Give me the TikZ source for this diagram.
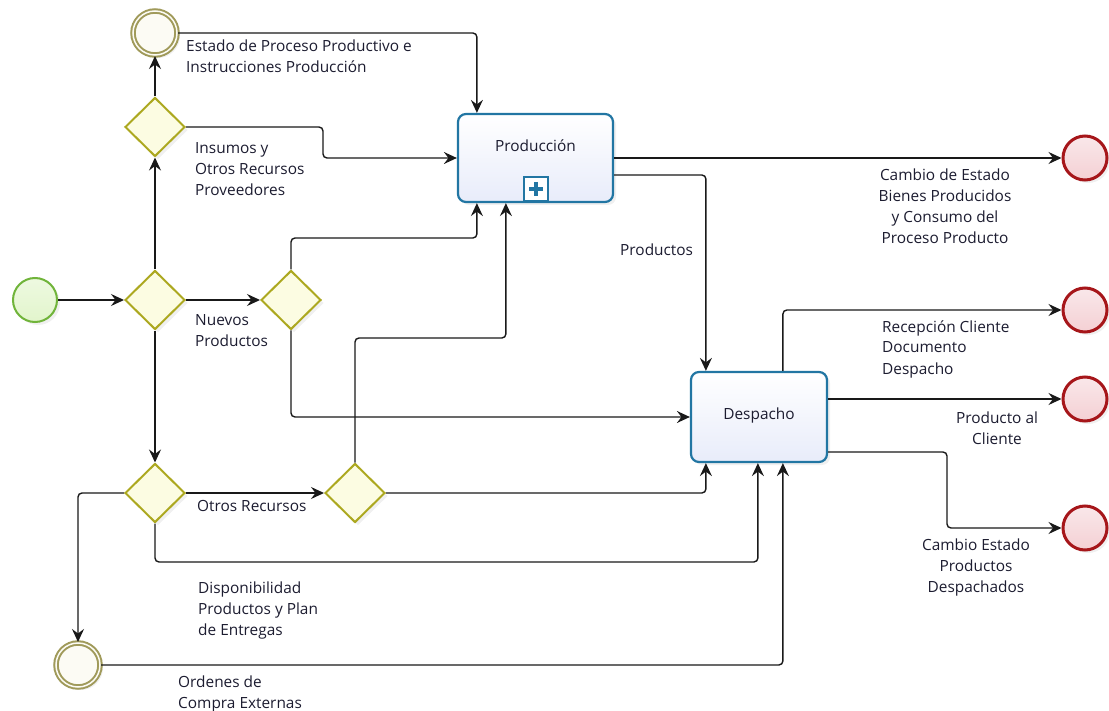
\documentclass[tikz,border=0pt]{standalone}
\usepackage{fontspec}
\setmainfont{Open Sans}
\usetikzlibrary{arrows.meta,shapes.geometric,calc,shadows}

\definecolor{ink}{RGB}{28,28,48}
\definecolor{taskblue}{RGB}{34,118,163}
\definecolor{taskfill}{RGB}{232,236,250}
\definecolor{gwline}{RGB}{172,168,32}
\definecolor{gwfill}{RGB}{252,252,226}
\definecolor{imline}{RGB}{160,154,90}
\definecolor{imfill}{RGB}{252,251,244}
\definecolor{stline}{RGB}{112,180,58}
\definecolor{stfill}{RGB}{226,245,204}
\definecolor{enline}{RGB}{166,22,26}
\definecolor{enfill}{RGB}{244,208,212}

\tikzset{
  softshadow/.style={drop shadow={opacity=0.12, shadow xshift=3pt, shadow yshift=-3pt}},
  task/.style={rectangle, rounded corners=8pt, draw=taskblue, line width=2.2pt,
    top color=white, bottom color=taskfill, softshadow, inner sep=0pt},
  gateway/.style={diamond, aspect=1, minimum width=60pt, minimum height=59pt,
    inner sep=0pt, draw=gwline, line width=2pt, fill=gwfill, softshadow},
  startev/.style={circle, minimum size=44pt, inner sep=0pt, draw=stline,
    line width=2pt, top color=stfill!60!white, bottom color=stfill, softshadow},
  midev/.style={circle, minimum size=44pt, inner sep=0pt, draw=imline,
    line width=2pt, double=imfill, double distance=1.5pt, fill=imfill, softshadow},
  endev/.style={circle, minimum size=44pt, inner sep=0pt, draw=enline,
    line width=3pt, top color=enfill!50!white, bottom color=enfill, softshadow},
  flow/.style={draw=black!90, line width=1.4pt, rounded corners=4pt,
    -{Stealth[length=13pt,width=12pt,inset=4.5pt]}},
  lbl/.style={font=\fontsize{15.4}{21}\selectfont, text=ink, inner sep=0pt},
}

\begin{document}
\begin{tikzpicture}[x=1pt,y=-1pt]
\useasboundingbox (0,0) rectangle (1109,711);

% events and gateways
\node[startev] (start) at (35,300) {};
\node[gateway] (g1)   at (155,300) {};
\node[gateway] (gtop) at (155,127) {};
\node[gateway] (g2)   at (291,300) {};
\node[gateway] (gbot) at (155,493) {};
\node[gateway] (g3)   at (355,493) {};
\node[midev] (ev1) at (155,33) {};
\node[midev] (ev2) at (78,665) {};

% activities
\node[task, minimum width=155pt, minimum height=88pt] (prod) at (535.5,158) {};
\node[lbl] (prodt) at (535.5,146) {Producción};
\node[draw=taskblue, line width=1.6pt, fill=white, minimum size=24pt, inner sep=0pt]
  (sub) at (536,189) {};
\draw[taskblue, line width=4pt] (sub.center) +(-7,0) -- +(7,0);
\draw[taskblue, line width=4pt] (sub.center) +(0,-7) -- +(0,7);

\node[task, minimum width=136pt, minimum height=90pt] (desp) at (759,417) {};
\node[lbl] (despt) at (759,415) {Despacho};

% end events
\node[endev] (end1) at (1085,158) {};
\node[endev] (end2) at (1085,310) {};
\node[endev] (end3) at (1085,399) {};
\node[endev] (end4) at (1085,528) {};

% docking points on the activity borders
\coordinate (pinA) at ($(prod.north west)+(20,0)$);
\coordinate (pinB) at ($(prod.south west)+(20,0)$);
\coordinate (pinC) at ($(prod.south west)+(49,0)$);
\coordinate (pinD) at ($(desp.north west)+(16,0)$);
\coordinate (pinE) at ($(desp.south west)+(16,0)$);
\coordinate (pinF) at ($(desp.south west)+(68,0)$);
\coordinate (pinG) at ($(desp.south west)+(93,0)$);
\coordinate (poutP) at ($(prod.east)+(0,17)$);
\coordinate (poutA) at ($(desp.north west)+(93,0)$);
\coordinate (poutB) at ($(desp.east)+(0,-18)$);
\coordinate (poutC) at ($(desp.east)+(0,35)$);
\coordinate (bendT) at (323,127);
\coordinate (bendR) at (947,452);

% sequence flows
\draw[flow] (start) -- (g1);
\draw[flow] (g1) -- (g2);
\draw[flow] (g1) -- (gtop);
\draw[flow] (gtop) -- (ev1);
\draw[flow] (g1) -- (gbot);
\draw[flow] (gbot) -- (g3);
\draw[flow] (ev1.east) -| (pinA);
\draw[flow] (gtop.east) -- (bendT) |- (prod.west);
\draw[flow] (g2.north) -- (g2.north |- 0,238) -| (pinB);
\draw[flow] (g2.south) |- (desp.west);
\draw[flow] (g3.north) -- (g3.north |- 0,338) -| (pinC);
\draw[flow] (g3.east) -| (pinE);
\draw[flow] (gbot.south) -- (gbot.south |- 0,562) -| (pinF);
\draw[flow] (gbot.west) -| (ev2.north);
\draw[flow] (ev2.east) -| (pinG);
\draw[flow] (prod.east) -- (end1.west);
\draw[flow] (poutP) -| (pinD);
\draw[flow] (poutA) |- (end2.west);
\draw[flow] (poutB) -- (poutB -| end3.west);
\draw[flow] (poutC) -- (bendR) |- (end4.west);

% flow labels (placed by the baseline of their last line)
\node[lbl, anchor=base west, align=left] (l1) at (186,73)
  {Estado de Proceso Productivo e\\Instrucciones Producción};
\node[lbl, anchor=base west, align=left] (l2) at (195,196)
  {Insumos y\\Otros Recursos\\Proveedores};
\node[lbl, anchor=base west, align=left] (l3) at (195,347)
  {Nuevos\\Productos};
\node[lbl, anchor=base west, align=left] (l4) at (197,511) {Otros Recursos};
\node[lbl, anchor=base west, align=left] (l5) at (198,635)
  {Disponibilidad\\Productos y Plan\\de Entregas};
\node[lbl, anchor=base west, align=left] (l6) at (178,708)
  {Ordenes de\\Compra Externas};
\node[lbl, anchor=base west, align=left] (l7) at (620,256) {Productos};
\node[lbl, anchor=base, align=center] (l8) at (945,244)
  {Cambio de Estado\\Bienes Producidos\\y Consumo del\\Proceso Producto};
\node[lbl, anchor=base west, align=left] (l9) at (882,374)
  {Recepción Cliente\\Documento\\Despacho};
\node[lbl, anchor=base, align=center] (l10) at (997,444)
  {Producto al\\Cliente};
\node[lbl, anchor=base, align=center] (l11) at (976,592)
  {Cambio Estado\\Productos\\Despachados};
\end{tikzpicture}
\end{document}
